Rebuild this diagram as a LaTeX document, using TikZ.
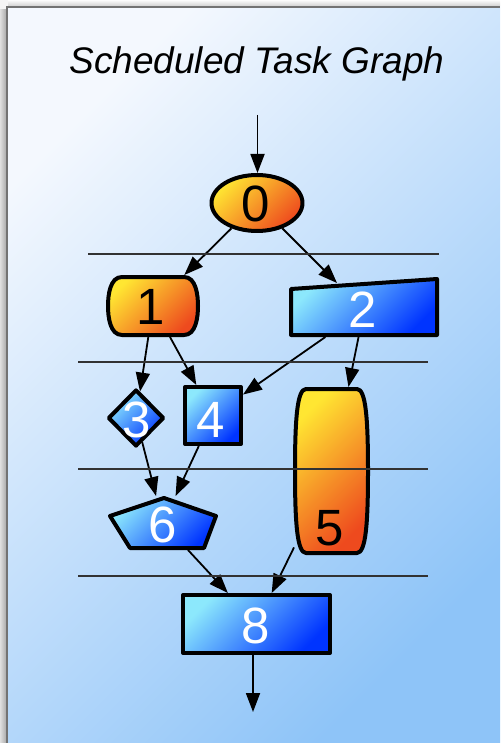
\documentclass[tikz,border=0pt]{standalone}
\usepackage{fontspec}
\setmainfont{Liberation Sans}
\usetikzlibrary{shapes.geometric,arrows.meta}
\definecolor{orA}{RGB}{255,230,50}
\definecolor{orB}{RGB}{238,74,30}
\definecolor{blA}{RGB}{140,232,252}
\definecolor{blB}{RGB}{0,52,255}
\definecolor{bgA}{RGB}{244,248,254}
\definecolor{bgB}{RGB}{142,196,248}
\definecolor{divc}{RGB}{50,50,50}
\tikzset{
  shp/.style={line width=4pt, line join=round, draw=black, inner sep=0pt, outer sep=2pt},
  orng/.style={top color=orA, bottom color=orB, shading angle=45},
  blu/.style={top color=blA, bottom color=blB, shading angle=45},
  ghost/.style={draw=none, rectangle, inner sep=0pt, outer sep=0pt},
  edge/.style={line width=1.8pt, -{Triangle[length=19pt,width=14pt]}},
  digit/.style={font=\fontsize{51}{51}\selectfont, anchor=base, inner sep=0pt},
  divline/.style={line width=1.8pt, draw=divc},
}
\begin{document}
\begin{tikzpicture}[x=1pt,y=-1pt]
\useasboundingbox (0,0) rectangle (500,743);
% page and panel
\fill[gray!8] (0,0) rectangle (500,743);
\fill[left color=gray!25, right color=gray!65] (0,10) rectangle (6,743);
\fill[top color=gray!8, bottom color=gray!35] (8,1) rectangle (500,6);
\path[top color=bgA, bottom color=bgB, shading angle=45] (7,7) rectangle (500,743);
\draw[line width=2pt, draw=gray!110] (7,743) -- (7,7) -- (500,7);
% title
\node[anchor=base, inner sep=0pt, font=\fontsize{37}{37}\selectfont\itshape] (title) at (257,74) {Scheduled Task Graph};
% custom shape outlines
\path[shp, orng] (122,277) -- (184,277) .. controls (196,277) and (198,295) .. (198,306)
  .. controls (198,317) and (196,335) .. (184,335) -- (122,335)
  .. controls (110,335) and (108,317) .. (108,306) .. controls (108,295) and (110,277) .. (122,277) -- cycle;
\path[shp, blu] (291,289) -- (437,279) -- (437,335) -- (291,335) -- cycle;
\path[shp, orng] (306,389) -- (357,389) .. controls (366,389) and (368,420) .. (368,471)
  .. controls (368,522) and (366,553) .. (357,553) -- (306,553)
  .. controls (297,553) and (295,522) .. (295,471) .. controls (295,420) and (297,389) .. (306,389) -- cycle;
\path[shp, blu] (164,498) -- (216,516) -- (204,548) -- (130,548) -- (110,516) -- cycle;
% nodes
\node[shp, orng, ellipse, minimum width=91pt, minimum height=56pt] (n0) at (257,203) {};
\node[ghost, minimum width=94pt, minimum height=62pt] (n1) at (153,306) {};
\node[ghost, minimum width=148pt, minimum height=54pt] (n2) at (364,310) {};
\node[shp, blu, diamond, minimum width=56pt, minimum height=57pt] (n3) at (136,418) {};
\node[shp, blu, rectangle, minimum width=56pt, minimum height=57pt] (n4) at (213,415.5) {};
\node[ghost, minimum width=75pt, minimum height=168pt] (n5) at (331.5,471) {};
\node[ghost, minimum width=110pt, minimum height=54pt] (n6) at (163,523) {};
\node[shp, blu, rectangle, minimum width=147pt, minimum height=58pt] (n8) at (256.5,624) {};
% labels
\node[digit] (l0) at (256,222) {0};
\node[digit] (l1) at (151,324) {1};
\node[digit, text=white] (l2) at (363,327) {2};
\node[digit, text=white] (l3) at (137,437) {3};
\node[digit, text=white] (l4) at (211,437) {4};
\node[digit] (l5) at (330,545) {5};
\node[digit, text=white] (l6) at (163,542) {6};
\node[digit, text=white] (l8) at (255.5,643) {8};
% connectors
\coordinate (topin) at (257.5,115);
\coordinate (botout) at (253,712);
\draw[edge] (topin) -- (topin |- n0.north);
\draw[edge] (n0) -- (n1);
\draw[edge] (n0) -- (n2);
\draw[edge] (n1) -- (n3);
\draw[edge] (n1) -- (n4);
\draw[edge] (n2) -- (n4);
\draw[edge] (n2) -- (n5);
\draw[edge] (n3) -- (n6);
\draw[edge] (n4) -- (n6);
\draw[edge] (n6) -- (n8);
\draw[edge] (n5) -- (n8);
\draw[edge] (n8.south -| botout) -- (botout);
% level separators
\draw[divline] (88,254) -- (439,254);
\draw[divline] (78,362) -- (428,362);
\draw[divline] (78,469) -- (428,469);
\draw[divline] (78,576) -- (428,576);
\end{tikzpicture}
\end{document}
